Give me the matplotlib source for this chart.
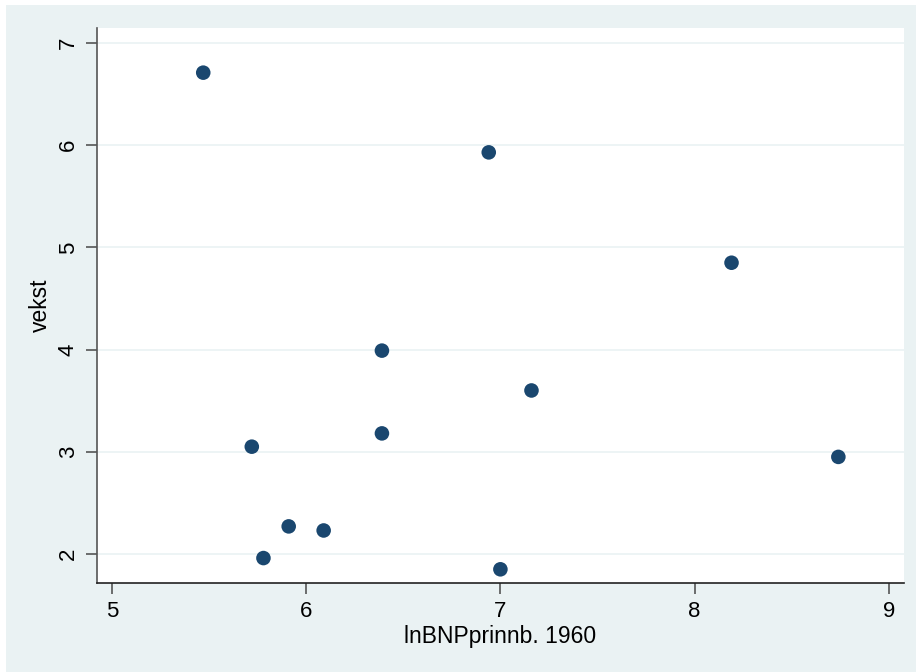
import matplotlib
matplotlib.use("Agg")
from matplotlib import pyplot as plt
from matplotlib.patches import Rectangle

# values
ln_bnp_1960 = [5.47, 6.94, 8.19, 6.39, 7.16, 5.72, 6.39, 8.74, 5.91, 6.09, 5.78, 7.00]
vekst = [6.71, 5.93, 4.85, 3.99, 3.60, 3.05, 3.18, 2.95, 2.27, 2.23, 1.96, 1.85]

x_ticks = [5, 6, 7, 8, 9]
y_ticks = [2, 3, 4, 5, 6, 7]

bg = "#eaf2f3"
navy = "#1a476f"

plt.rcParams["font.family"] = ["Liberation Sans", "DejaVu Sans"]

fig = plt.figure(figsize=(9.16, 6.72), dpi=100)
fig.patch.set_facecolor("white")
fig.patches.append(Rectangle((6 / 916, 0), 1, 1 - 5 / 672, transform=fig.transFigure,
                             facecolor=bg, edgecolor="none", zorder=-10))

ax = fig.add_axes([97 / 916, 89 / 672, 807 / 916, 555 / 672])
ax.set_facecolor("white")

ax.scatter(ln_bnp_1960, vekst, s=110, color=navy, edgecolors="none", zorder=3)

ax.set_xlim(4.923, 9.078)
ax.set_ylim(1.716, 7.147)
ax.set_xticks(x_ticks)
ax.set_yticks(y_ticks)
ax.yaxis.grid(True, color=bg, linewidth=1.2)
ax.set_axisbelow(True)

for side in ("top", "right"):
    ax.spines[side].set_visible(False)
ax.spines["left"].set_color("#555555")
ax.spines["bottom"].set_color("#222222")
ax.spines["left"].set_linewidth(1.2)
ax.spines["bottom"].set_linewidth(1.2)

ax.tick_params(axis="both", direction="out", length=8, width=1.2, color="#555555",
               labelsize=16, pad=5)
for lbl in ax.get_yticklabels():
    lbl.set_rotation(90)
    lbl.set_va("center")

ax.set_xlabel("lnBNPprinnb. 1960", fontsize=16.5, labelpad=2)
ax.set_ylabel("vekst", fontsize=16.5, labelpad=4)

fig.savefig("out.png", dpi=100, facecolor=fig.get_facecolor())
